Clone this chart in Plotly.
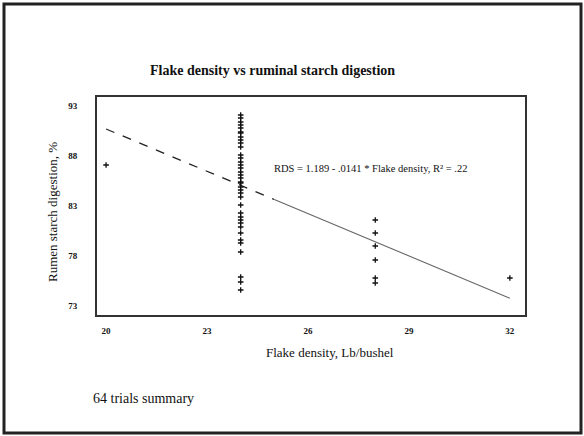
import plotly.graph_objects as go

# Data
density_20 = [20]
rds_20 = [87.1]

density_24 = [24] * 38
rds_24 = [92.1, 91.8, 91.4, 91.1, 90.8, 90.4, 90.3, 89.9, 89.6, 89.3, 88.9,
          88.1, 87.8, 87.4, 87.1, 86.8, 86.4, 86.1, 85.8, 85.4, 85.3, 84.9,
          84.6, 84.3, 83.9, 83.1, 82.3, 81.9, 81.6, 81.3, 80.9, 80.3, 79.6,
          79.3, 78.4, 75.9, 75.4, 74.6]

density_28 = [28] * 6
rds_28 = [81.6, 80.3, 79.0, 77.6, 75.8, 75.3]

density_32 = [32]
rds_32 = [75.8]

x_all = density_20 + density_24 + density_28 + density_32
y_all = rds_20 + rds_24 + rds_28 + rds_32

intercept = 118.9
slope = -1.41
fit_x_dashed = [20, 25]
fit_x_solid = [25, 32]

x_ticks = [20, 23, 26, 29, 32]
y_ticks = [73, 78, 83, 88, 93]

serif = "Liberation Serif, Times New Roman, serif"

fig = go.Figure()
fig.add_trace(go.Scatter(
    x=fit_x_dashed, y=[intercept + slope * v for v in fit_x_dashed],
    mode="lines", line=dict(color="#222", width=1.3, dash="dash"),
    showlegend=False, hoverinfo="skip"))
fig.add_trace(go.Scatter(
    x=fit_x_solid, y=[intercept + slope * v for v in fit_x_solid],
    mode="lines", line=dict(color="#666", width=1.1),
    showlegend=False, hoverinfo="skip"))
fig.add_trace(go.Scatter(
    x=x_all, y=y_all, mode="markers",
    marker=dict(symbol="cross-thin", size=4, line=dict(color="#111", width=1.3)),
    showlegend=False))

fig.add_annotation(x=27.85, y=86.8, xref="x", yref="y",
                   text="RDS = 1.189 - .0141 * Flake density, R² = .22",
                   xanchor="center", yanchor="middle",
                   showarrow=False, font=dict(family=serif, size=10.5, color="#111"))

def px_x(p):
    return (p - 97) / 428

def px_y(p):
    return (315 - p) / 218

# titles as annotations in paper coords
fig.add_annotation(x=px_x(272), y=px_y(70), xref="paper", yref="paper",
                   xanchor="center", yanchor="middle",
                   text="<b>Flake density vs ruminal starch digestion</b>",
                   showarrow=False, font=dict(family=serif, size=14, color="#111"))
fig.add_annotation(x=px_x(52), y=px_y(212), xref="paper", yref="paper",
                   xanchor="center", yanchor="middle",
                   text="Rumen starch digestion, %", textangle=-90,
                   showarrow=False, font=dict(family=serif, size=13, color="#111"))
fig.add_annotation(x=px_x(330), y=px_y(352), xref="paper", yref="paper",
                   xanchor="center", yanchor="middle",
                   text="Flake density, Lb/bushel",
                   showarrow=False, font=dict(family=serif, size=13, color="#111"))
fig.add_annotation(x=px_x(91), y=px_y(398), xref="paper", yref="paper",
                   xanchor="left", yanchor="middle",
                   text="64 trials summary",
                   showarrow=False, font=dict(family=serif, size=14, color="#111"))

# outer slide frame
fig.add_shape(type="rect", xref="paper", yref="paper",
              x0=px_x(4), x1=px_x(581), y0=px_y(433), y1=px_y(4),
              line=dict(color="#222", width=3))

fig.update_xaxes(range=[19.73, 32.45], tickvals=x_ticks, showgrid=False, zeroline=False,
                 showline=True, linecolor="#333", linewidth=2, mirror=True,
                 ticklabelstandoff=6,
                 tickfont=dict(family=serif, size=9, color="#111", weight="bold"))
fig.update_yaxes(range=[72.1, 93.9], tickvals=y_ticks, showgrid=False, zeroline=False,
                 showline=True, linecolor="#333", linewidth=2, mirror=True,
                 ticklabelstandoff=16,
                 tickfont=dict(family=serif, size=9, color="#111", weight="bold"))

fig.update_layout(width=584, height=436, margin=dict(l=97, r=59, t=97, b=121),
                  paper_bgcolor="white", plot_bgcolor="white",
                  font=dict(family=serif, color="#111"))

fig.write_html("out.html", config={"displayModeBar": False},
               post_script="document.body.style.margin='0';")
